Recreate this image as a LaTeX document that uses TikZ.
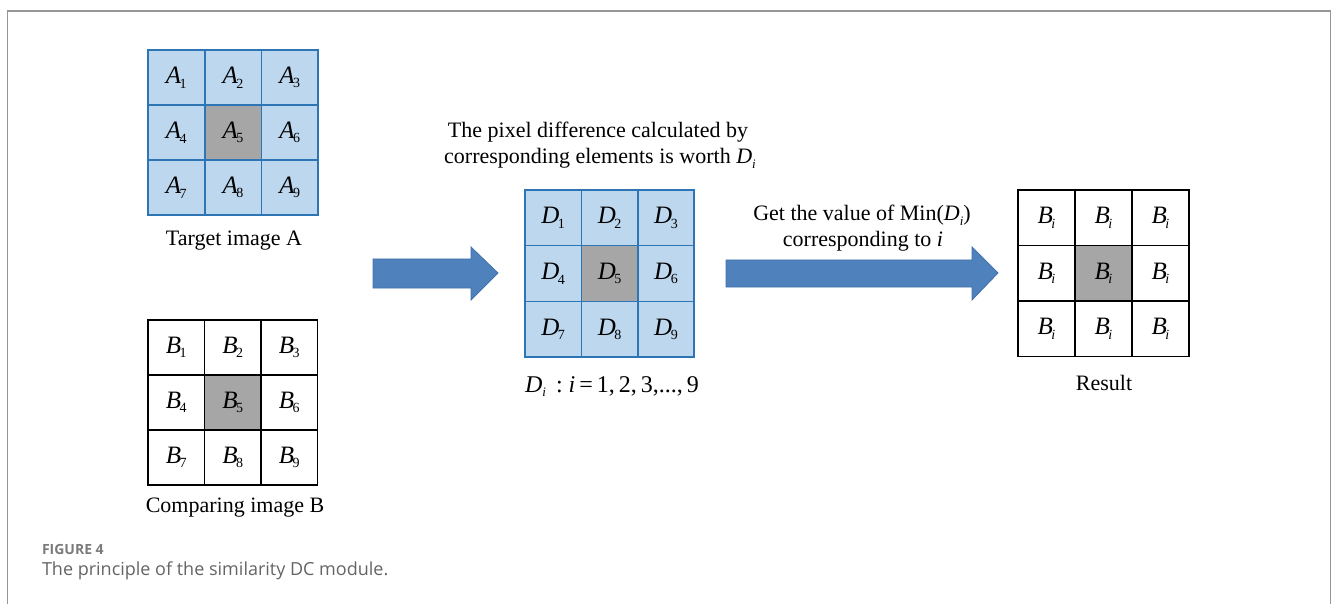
\documentclass[tikz,border=0pt]{standalone}
\usepackage{fontspec}
\setmainfont{Liberation Serif}
\newfontfamily\capfont{Open Sans}
\definecolor{cellblue}{RGB}{189,215,238}
\definecolor{lineblue}{RGB}{46,117,182}
\definecolor{midgray}{RGB}{166,166,166}
\definecolor{arrowblue}{RGB}{79,129,189}
\definecolor{arrowedge}{RGB}{65,113,170}
\definecolor{framegray}{RGB}{150,150,150}
\definecolor{captext}{RGB}{100,100,100}
\newcommand\cellsym[2]{{\itshape #1}\kern-0.06em\raisebox{-0.4ex}{\fontsize{14}{14}\selectfont #2}}
\newcommand\isub{\raisebox{-0.45ex}{\fontsize{13}{13}\selectfont\itshape i}}
% #1 prefix, #2 left x, #3 top y, #4 cell w, #5 cell h, #6 style, #7 letter, #8 subscript (\n or i)
\newcommand\mygrid[8]{%
  \foreach \n in {1,...,9}{%
    \pgfmathtruncatemacro\cc{mod(\n-1,3)}%
    \pgfmathtruncatemacro\rr{int((\n-1)/3)}%
    \ifnum\n=5 \def\ff{midgray}\else\def\ff{#6fill}\fi
    \node[cellbase, fill=\ff, minimum width=#4, minimum height=#5]
      (#1\n) at ({#2+(\cc+0.5)*#4},{#3+(\rr+0.5)*#5}) {\cellsym{#7}{#8}};
  }%
  \foreach \n in {1,...,9}{%
    \draw[#6] (#1\n.north west) rectangle (#1\n.south east);
  }%
}
\begin{document}
\begin{tikzpicture}[x=1pt,y=-1pt,
  every node/.style={inner sep=0pt, outer sep=0pt},
  cellbase/.style={font=\fontsize{25}{25}\selectfont},
  bluecell/.style={draw=lineblue, line width=1.6pt},
  blackcell/.style={draw=black, line width=1.8pt},
  label/.style={font=\fontsize{22}{22}\selectfont, align=center},
  bigarrow/.style={fill=arrowblue, draw=arrowedge, line width=0.8pt, line join=miter},
  framestyle/.style={draw=framegray, line width=1.4pt}
]
\useasboundingbox (0,0) rectangle (1331,604);
% frame
\draw[framestyle] (7.5,604) -- (7.5,11) -- (1330.5,11) -- (1330.5,604);

% colours for fills
\colorlet{bluecellfill}{cellblue}
\colorlet{blackcellfill}{white}

% grid A
\mygrid{a}{148}{50}{56.7}{55}{bluecell}{A}{\n}
\node[label, anchor=base] (labA) at (234,246) {Target image A};

% grid B
\mygrid{b}{148}{320}{56.5}{55}{blackcell}{B}{\n}
\node[label, anchor=base] (labB) at (235,512) {Comparing image B};

% grid D
\mygrid{d}{525}{190}{56.4}{55.7}{bluecell}{D}{\n}
\node[label, anchor=base] (labD) at (612,392)
  {\fontsize{24}{24}\selectfont{\itshape D}\isub\ \,:\ {\itshape i}\,=\,1,\,2,\,3,...,\,9};
\node[label, anchor=base] (topD1) at (598,138) {The pixel difference calculated by};
\node[label, anchor=base] (topD2) at (600,164) {corresponding elements is worth {\itshape D}\isub};

% result grid
\mygrid{r}{1018}{190}{57}{55.5}{blackcell}{B}{\itshape i}
\node[label, anchor=base] (labR) at (1104,390) {Result};

% arrows
\draw[bigarrow] (373,259) -- (471,259) -- (471,247) -- (498,273) -- (471,300) -- (471,288) -- (373,288) -- cycle;
\draw[bigarrow] (726,260) -- (972,260) -- (972,247) -- (998,273) -- (972,300) -- (972,287) -- (726,287) -- cycle;
\node[label, anchor=base] (arr2a) at (862,221) {Get the value of Min({\itshape D}\isub)};
\node[label, anchor=base] (arr2b) at (863,247) {corresponding to {\itshape i}};

% caption
\node[anchor=base west, font=\capfont\fontsize{14}{14}\selectfont\bfseries, text=captext!85] (fig) at (42,554) {FIGURE 4};
\node[anchor=base west, font=\capfont\fontsize{18}{18}\selectfont, text=captext] (cap) at (42,575) {The principle of the similarity DC module.};
\end{tikzpicture}
\end{document}
